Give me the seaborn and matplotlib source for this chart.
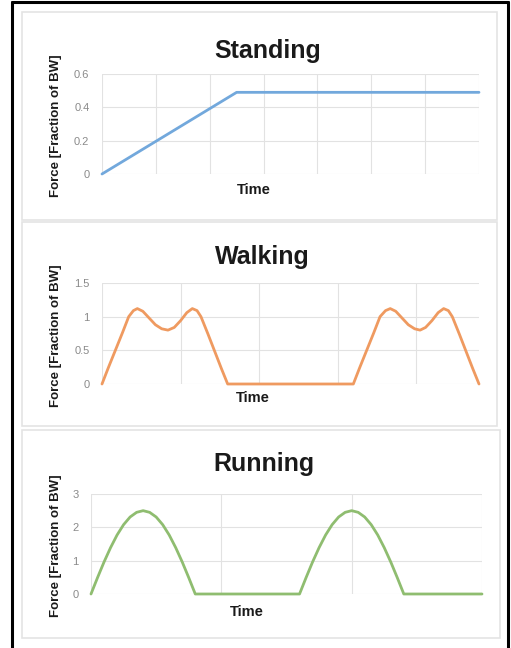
import pandas as pd
import seaborn as sns
import matplotlib.pyplot as plt
from matplotlib.patches import Rectangle
from matplotlib.lines import Line2D

# data (x in grid-column units)
stand_time = [0, 2.5, 7]
stand_force = [0, 0.49, 0.49]

walk_time = [0, 0.08, 0.17, 0.26, 0.34, 0.40, 0.45, 0.52, 0.60, 0.68, 0.76, 0.84, 0.92, 1.00,
             1.08, 1.15, 1.21, 1.26, 1.35, 1.44, 1.52, 1.60,
             3.20, 3.28, 3.37, 3.46, 3.54, 3.61, 3.67, 3.74, 3.82, 3.90, 3.98, 4.05, 4.12, 4.20,
             4.28, 4.35, 4.41, 4.46, 4.55, 4.64, 4.72, 4.80]
walk_force = [0, 0.24, 0.50, 0.76, 1.00, 1.09, 1.12, 1.08, 0.98, 0.88, 0.82, 0.80, 0.84, 0.94,
              1.06, 1.12, 1.09, 1.00, 0.74, 0.47, 0.23, 0,
              0, 0.24, 0.50, 0.76, 1.00, 1.09, 1.12, 1.08, 0.98, 0.88, 0.82, 0.80, 0.84, 0.94,
              1.06, 1.12, 1.09, 1.00, 0.74, 0.47, 0.23, 0]

run_time = [0, 0.05, 0.10, 0.15, 0.20, 0.25, 0.30, 0.35, 0.40, 0.45, 0.50, 0.55, 0.60, 0.65, 0.70, 0.75, 0.80,
            1.60, 1.65, 1.70, 1.75, 1.80, 1.85, 1.90, 1.95, 2.00, 2.05, 2.10, 2.15, 2.20, 2.25, 2.30, 2.35, 2.40,
            3.00]
run_force = [0, 0.49, 0.96, 1.39, 1.77, 2.08, 2.31, 2.45, 2.50, 2.45, 2.31, 2.08, 1.77, 1.39, 0.96, 0.49, 0,
             0, 0.49, 0.96, 1.39, 1.77, 2.08, 2.31, 2.45, 2.50, 2.45, 2.31, 2.08, 1.77, 1.39, 0.96, 0.49, 0,
             0]

stand_ticks = [0, 0.2, 0.4, 0.6]
stand_labels = ['0', '0.2', '0.4', '0.6']
walk_ticks = [0, 0.5, 1, 1.5]
walk_labels = ['0', '0.5', '1', '1.5']
run_ticks = [0, 1, 2, 3]
run_labels = ['0', '1', '2', '3']

sns.set_theme(style='white')
plt.rcParams['font.family'] = ['Liberation Sans', 'DejaVu Sans']

W, H = 511, 648
fig = plt.figure(figsize=(W / 100, H / 100), dpi=100)

def px(x0, y0, x1, y1):
    return [x0 / W, 1 - y1 / H, (x1 - x0) / W, (y1 - y0) / H]

# panel frames
for (x0, y0, x1, y1) in [(22, 12, 497, 220), (22, 222, 497, 426), (22, 430, 500, 638)]:
    fig.add_artist(Rectangle((x0 / W, 1 - y1 / H), (x1 - x0) / W, (y1 - y0) / H,
                             transform=fig.transFigure, fill=False,
                             edgecolor='#e4e4e4', linewidth=1.2))

panels = [
    dict(title='Standing', x=stand_time, y=stand_force, color='#72a8dc', box=(102, 74, 479, 174),
         xlim=7, vgrid=range(0, 8), yt=stand_ticks, yl=stand_labels, tx=268, ty=58, time_x=254, time_y=190),
    dict(title='Walking', x=walk_time, y=walk_force, color='#ef9a60', box=(102, 283, 479, 384),
         xlim=4.8, vgrid=range(0, 5), yt=walk_ticks, yl=walk_labels, tx=262, ty=264, time_x=253, time_y=398),
    dict(title='Running', x=run_time, y=run_force, color='#8fbd70', box=(91, 494, 482, 594),
         xlim=3, vgrid=range(0, 4), yt=run_ticks, yl=run_labels, tx=264, ty=471, time_x=247, time_y=612),
]

for p in panels:
    x0, y0, x1, y1 = p['box']
    ax = fig.add_axes(px(x0, y0, x1, y1))
    df = pd.DataFrame({'Time': p['x'], 'Force': p['y']})
    for v in p['vgrid']:
        ax.axvline(v, color='#e2e2e2', linewidth=0.8, zorder=0)
    for t in p['yt']:
        ax.axhline(t, color='#e2e2e2', linewidth=0.8, zorder=0)
    sns.lineplot(data=df, x='Time', y='Force', ax=ax, color=p['color'], linewidth=2.0,
                 sort=False, estimator=None, clip_on=False)
    ax.set_xlim(0, p['xlim'])
    ax.set_ylim(p['yt'][0], p['yt'][-1])
    ax.set_xticks([])
    ax.set_yticks(p['yt'])
    ax.set_yticklabels(p['yl'], color='#8a8a8a', fontsize=8)
    ax.tick_params(axis='y', length=0, pad=9)
    for s in ax.spines.values():
        s.set_visible(False)
    ax.set_xlabel('')
    ax.set_ylabel('')
    fig.text(p['tx'] / W, 1 - p['ty'] / H, p['title'], ha='center', va='baseline',
             fontsize=18, fontweight='bold', color='#1a1a1a')
    fig.text(p['time_x'] / W, 1 - p['time_y'] / H, 'Time', ha='center', va='center',
             fontsize=10.5, fontweight='bold', color='#1a1a1a')
    fig.text(56 / W, 1 - ((y0 + y1) / 2 + 2) / H, 'Force [Fraction of BW]', rotation=90,
             ha='center', va='center', fontsize=9.5, fontweight='bold', color='#1a1a1a')

# black frame around the figure (left, top, right)
lw = 2.2
fig.add_artist(Line2D([12 / W, 12 / W], [0, 1 - 2 / H], transform=fig.transFigure, color='black', linewidth=lw))
fig.add_artist(Line2D([12 / W, 508 / W], [1 - 2 / H, 1 - 2 / H], transform=fig.transFigure, color='black', linewidth=lw))
fig.add_artist(Line2D([508 / W, 508 / W], [0, 1 - 2 / H], transform=fig.transFigure, color='black', linewidth=lw))

fig.savefig('out.png', dpi=100)
